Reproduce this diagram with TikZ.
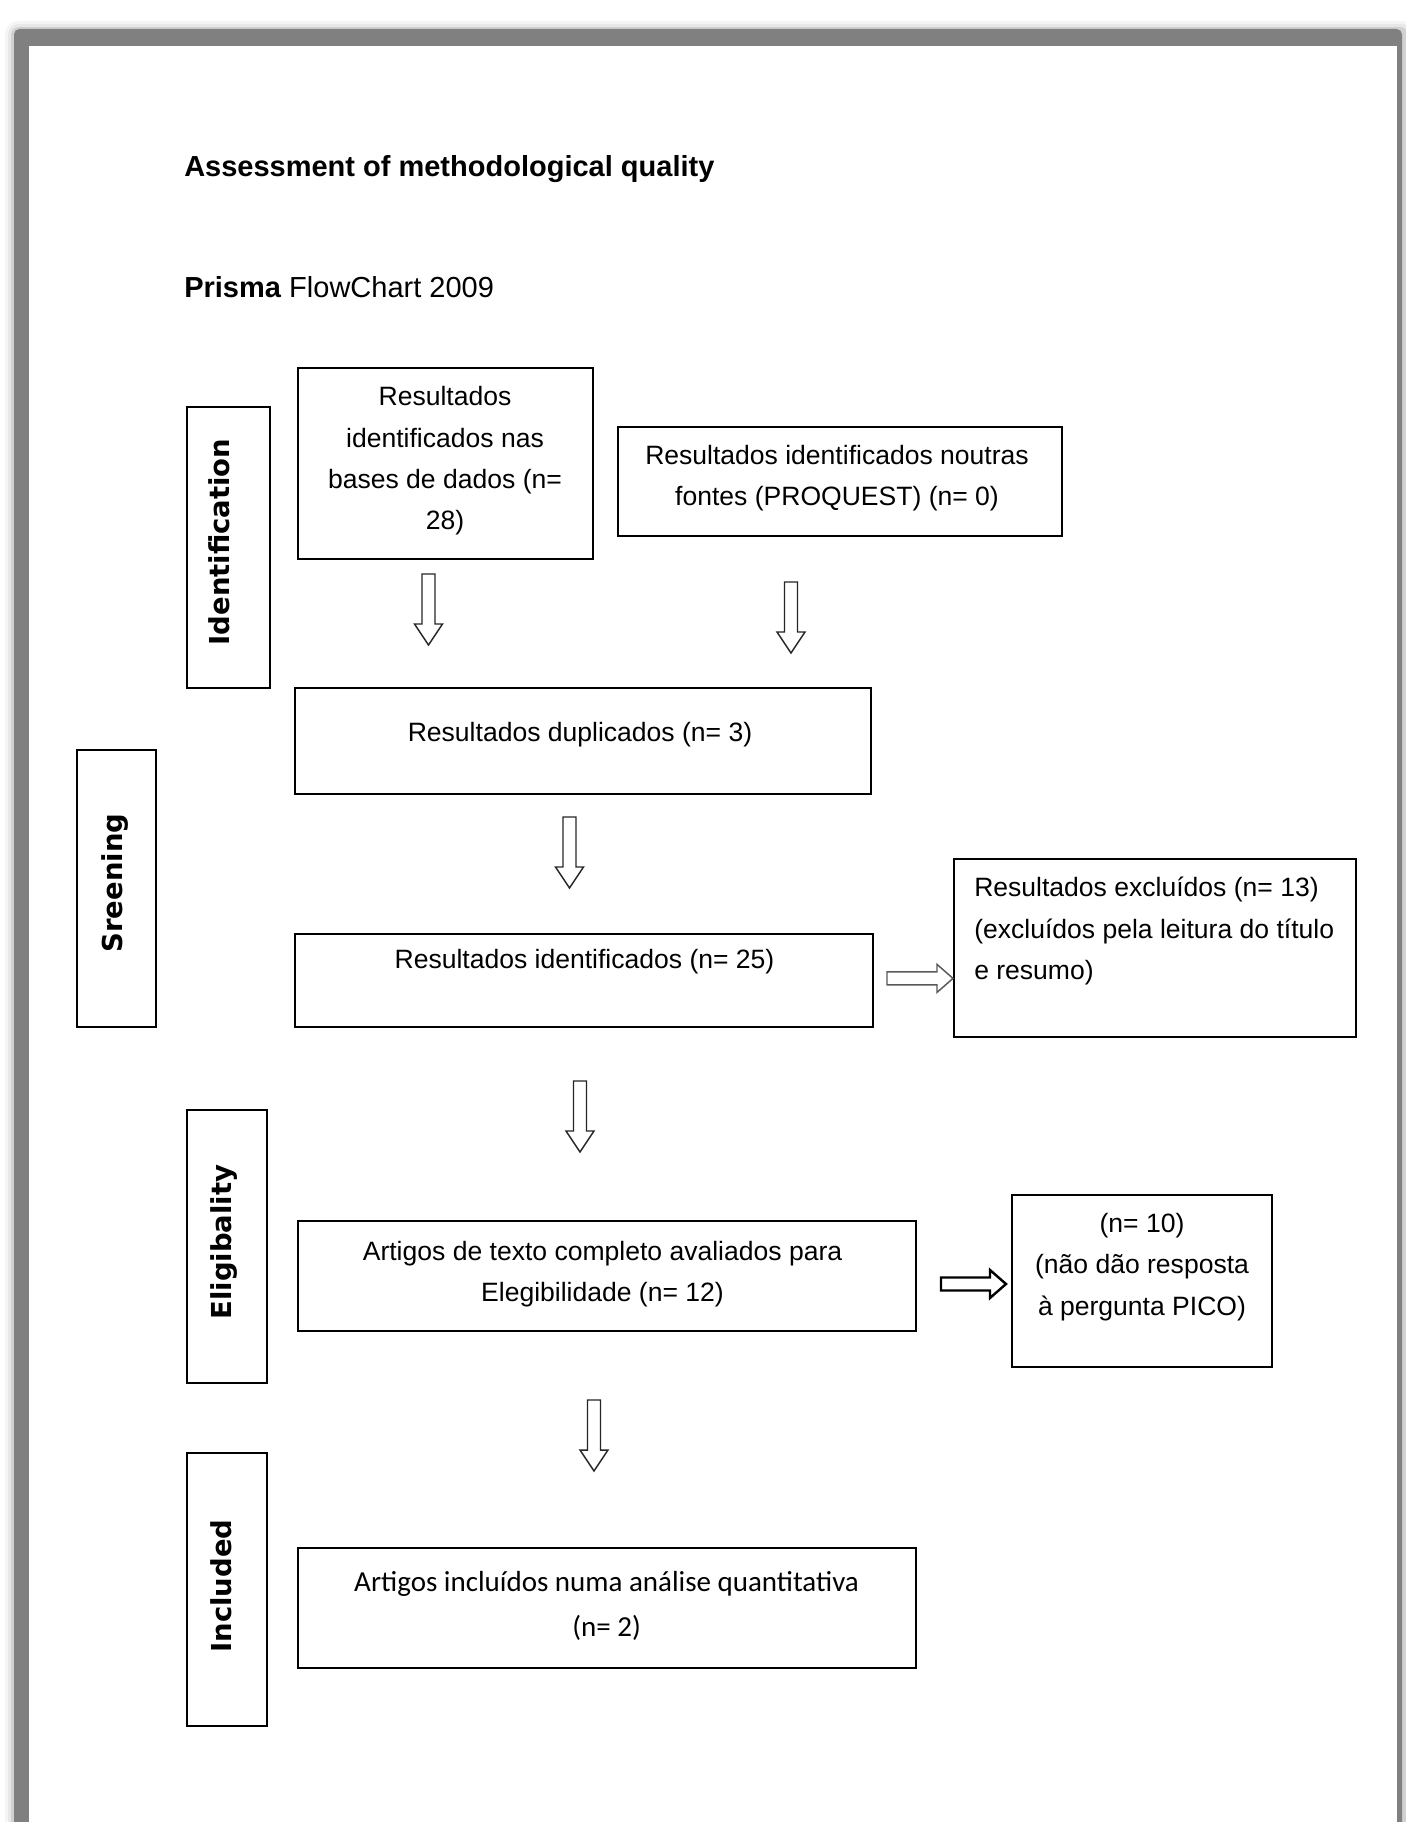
\documentclass[tikz,border=0pt]{standalone}
\usepackage{fontspec}
\setmainfont{Liberation Sans}
\newfontfamily\sidefont{DejaVu Sans}
\newfontfamily\calfont{Carlito}
\usetikzlibrary{fit}
\definecolor{framegray}{HTML}{808080}
\tikzset{
  box/.style={draw=black, line width=1.5pt, inner sep=0pt},
  txt/.style={font=\fontsize{19.9pt}{31pt}\selectfont, align=center, inner sep=0pt},
  sidetxt/.style={font=\sidefont\bfseries\fontsize{20.6pt}{24pt}\selectfont, rotate=90, inner sep=0pt, text height=15pt, text depth=0pt},
  arrowline/.style={draw=black!85, line width=1.1pt, fill=white, line join=miter},
}
\begin{document}
\begin{tikzpicture}[x=0.75pt,y=-0.75pt]
\useasboundingbox (0,0) rectangle (1405,1822);
% page frame with shadow
\fill[black!4, rounded corners=10pt] (5,21) rectangle (1415,1840);
\fill[black!9, rounded corners=8pt] (8,24) rectangle (1412,1840);
\fill[black!18, rounded corners=6pt] (11,27) rectangle (1408,1840);
\fill[framegray, rounded corners=4pt] (14,29) rectangle (1402,1840);
\fill[white] (29,46) rectangle (1397,1840);

% titles
\node[anchor=base west, inner sep=0pt, font=\bfseries\fontsize{21.75pt}{26pt}\selectfont] (title) at (184,176.5) {Assessment of methodological quality};
\node[anchor=base west, inner sep=0pt, font=\fontsize{21.75pt}{26pt}\selectfont] (sub) at (184,297.5) {\textbf{Prisma} FlowChart 2009};

% side boxes
\node[box, fit={(187,407) (270,688)}] (sideI) {};
\node[sidetxt] (sideIt) at (219.5,542) {Identification};
\node[box, fit={(77,750) (156,1027)}] (sideS) {};
\node[sidetxt] (sideSt) at (112,883) {Sreening};
\node[box, fit={(187,1110) (267,1383)}] (sideE) {};
\node[sidetxt] (sideEt) at (221,1242) {Eligibality};
\node[box, fit={(187,1453) (267,1726)}] (sideN) {};
\node[sidetxt] (sideNt) at (221,1586) {Included};

% main boxes
\node[box, fit={(297.5,368) (592.7,559)}] (bA) {};
\node[txt] (tA) at (445,461) {Resultados\\identificados nas\\bases de dados (n=\\28)};
\node[box, fit={(618,426.5) (1062,536)}] (bB) {};
\node[txt] (tB) at (837,478) {Resultados identificados noutras\\fontes (PROQUEST) (n= 0)};
\node[box, fit={(295,688) (870.5,794)}] (bDup) {};
\node[txt] (tDup) at (580,734.5) {Resultados duplicados (n= 3)};
\node[box, fit={(295,934) (873,1027)}] (bId) {};
\node[txt] (tId) at (584.5,962) {Resultados identificados (n= 25)};
\node[box, fit={(954,859) (1356,1037)}] (bEx) {};
\node[txt, align=left, anchor=west] (tEx) at (974,931) {Resultados excluídos (n= 13)\\(excluídos pela leitura do título\\e resumo)};
\node[box, fit={(297.5,1221) (916,1331)}] (bArt) {};
\node[txt] (tArt) at (602.5,1274) {Artigos de texto completo avaliados para\\Elegibilidade (n= 12)};
\node[box, fit={(1012,1195) (1272,1367)}] (bTen) {};
\node[txt] (tTen) at (1142,1267) {(n= 10)\\(não dão resposta\\à pergunta PICO)};
\node[box, fit={(297.5,1548) (916,1668)}] (bFin) {};
\node[txt, font=\calfont\fontsize{21.75pt}{33.75pt}\selectfont] (tFin) at (606.6,1605.5) {Artigos incluídos numa análise quantitativa\\(n= 2)};

% block arrows (down): top centre, shaft 13 wide, head 28 wide, head 21 long
\coordinate (a1) at (428.5,574);
\coordinate (a2) at (791,582);
\coordinate (a3) at (569.5,817);
\coordinate (a4) at (580,1081);
\coordinate (a5) at (594,1400);
\foreach \c in {a1,a2,a3,a4,a5}{
  \draw[arrowline] (\c) ++(-6.5,0) -- ++(0,50) -- ++(-7.5,0) -- ++(14,21) -- ++(14,-21) -- ++(-7.5,0) -- ++(0,-50) -- cycle;
}
% block arrows (right)
\coordinate (r1) at (887,978.4);
\coordinate (r2) at (941,1284);
\draw[arrowline, draw=black!65] (r1) ++(0,-6.5) -- ++(50,0) -- ++(0,-7.5) -- ++(16,14) -- ++(-16,14) -- ++(0,-7.5) -- ++(-50,0) -- cycle;
\draw[arrowline, draw=black, line width=1.8pt] (r2) ++(0,-6.5) -- ++(49,0) -- ++(0,-7.5) -- ++(16,14) -- ++(-16,14) -- ++(0,-7.5) -- ++(-49,0) -- cycle;
\end{tikzpicture}
\end{document}
